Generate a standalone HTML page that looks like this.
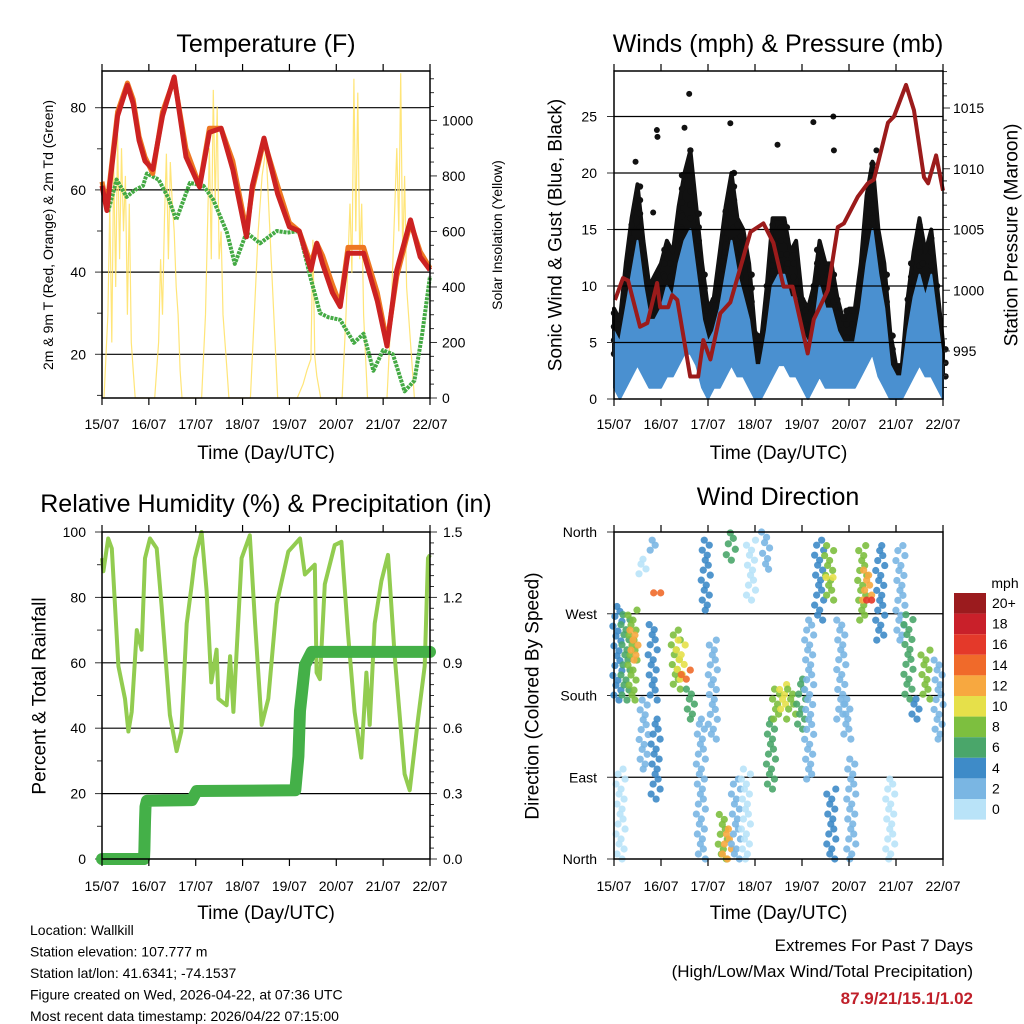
<!DOCTYPE html>
<html><head><meta charset="utf-8"><style>
html,body{margin:0;padding:0;background:#fff;}
svg{display:block;font-family:"Liberation Sans",sans-serif;}
</style></head><body>
<svg id="c" width="1024" height="1024" viewBox="0 0 1024 1024" xmlns="http://www.w3.org/2000/svg"></svg>
<script>
// ---------- DATA ----------
const dayLabels = ['15/07','16/07','17/07','18/07','19/07','20/07','21/07','22/07'];
// Temperature (F)
const tempHours = [0,2.5,8,13,16,19,22,26,31,37,43,50,55,61,67,74,77,83,90,96,101,107,110,113,118,122,126,134,141,146,151,158,163,168];
const tempRed   = [61,55,78,85.5,81,72,67,65,78,87.5,68,60.7,74,75,65,48.6,61,72.6,59,51,50,40.5,47,42,35,31.6,44.6,44.6,33,22,40.5,52.7,43.7,40.5];
const tempOrange= [62,56,79,86,82,73,68,64,79,87,70,61,75,75,67,50,60,72,61,52,50,42,47,44,37,32,46,46,35,23,39,52,45,41];
const dewHours  = [0,3,7.5,12.6,17,21,23,29,34,38,45,52,57,64,68,74,81,89.5,95,101,106.6,111.7,116,122,129,134,139,144,149,155,160,164,168];
const dewPoint  = [61,54.5,62.5,58.3,60,61,64,62.5,58,52.7,61.7,61,57.6,49.6,42,49.6,47,50,49.6,50,39,30,29,28.4,22.8,25,16,21,20,11,13.6,25,39];
const solarHours= [1,3,4,5,6,7,8,9,10,11,12,13,14,15,16,17, 27,29,30,31,32,33,34,35,36,37,38,39,40,41, 51,53,54,55,56,57,58,59,60,61,62,63,64,65, 76,78,80,82,84,86,88,90, 100,103,105,107,108,109,110,112, 123,125,127,128,129,130,131,132,133,134,136, 146,148,150,151,152,153,154,155,156,158,160];
const solarVals = [0,300,700,200,850,400,950,500,900,600,800,300,700,200,100,0, 0,200,500,300,650,880,500,850,700,600,400,300,100,0, 0,300,600,900,500,1110,700,1050,500,600,300,200,100,0, 0,300,600,800,900,600,300,0, 0,50,100,140,570,150,80,0, 0,300,700,450,1150,600,1100,500,700,300,0, 0,300,700,900,600,1170,500,800,400,200,0];
const tempTicks = [20,40,60,80];
const solarTicks = [0,200,400,600,800,1000];
// Winds (3-hourly envelope samples, hour = index*3)
const gustHi = [8,7,12,16,19,14,10,11, 12,14,13,17,20,22,17,12, 8,9,13,17,20,16,15,12, 6,5,10,16,16,16,13,14, 9,8,10,14,12,12,9,7, 8,8,12,18,21,15,12,6, 3,3,9,13,16,13,15,10,5];
const gustLo = [4,3,5,7,8,6,5,5, 5,6,6,8,9,10,8,5, 3,4,5,7,8,7,6,5, 2,2,4,7,8,8,6,6, 4,3,4,6,5,5,4,3, 3,3,5,8,10,7,5,2, 1,1,4,6,7,6,7,4,2];
const windHi = [6,5,8,11,14,10,7,7, 8,10,9,12,14,15,11,7, 5,6,8,11,14,11,9,7, 3,3,6,10,11,11,9,9, 6,5,6,10,8,8,6,5, 5,5,8,12,15,11,8,3, 2,2,6,9,11,9,11,7,3];
const windLo = [1,0,1,2,3,2,1,1, 1,2,2,3,4,4,3,1, 0,1,1,2,3,2,2,1, 0,0,1,2,3,3,2,2, 1,0,1,2,1,1,1,1, 1,1,2,3,4,2,1,0, 0,0,1,2,3,2,2,1,0];
const gustOutHours = [20,21.9,22.2,38.4,59.4,83.5,101.8,112,112.3,11,36,134];
const gustOutVals  = [16.5,23.8,23.2,27,24.4,22.5,24.5,25,22,21,24,22];
const presHours = [0.5,4.6,7.2,13.3,17,22,23.6,27.7,29.7,32.3,38.9,43,45.6,49.2,54.3,59.4,66,69.7,76.3,81.4,86.6,91.2,98.9,102,109.2,114.3,117.4,124.5,129.6,132.7,139.9,143,149.1,153.2,158.3,160.4,164.5,168];
const presVals  = [999.2,1001,1000.8,997,997.3,1000.6,998.6,998.6,999.6,999.2,992.9,992.9,995.9,994.3,998.1,999,1002.7,1004.8,1005.5,1003.9,1000.3,1000.3,994.8,997.6,1000,1005.2,1005.5,1007.7,1008.8,1009.1,1013.8,1014.3,1016.9,1014.8,1009.3,1008.8,1011.1,1008.2];
const windTicks = [0,5,10,15,20,25];
const presTicks = [995,1000,1005,1010,1015];
// Relative humidity & precipitation
const rhHours = [0,0.7,3.2,5,8.4,11.8,13.5,15.2,17.8,20.3,22,24.6,28,30.6,34.8,38.2,40.6,43.4,46,47.6,51,53.6,56,58.7,59.6,63.8,65.6,67.3,71.5,75.7,78.4,81.8,85.2,89.5,95.4,101.4,103.9,109,109.9,111.6,114.1,119.2,122.6,126,129.4,132.8,135.4,137.1,139.7,143.1,146.5,149.9,155,157.6,161.9,165.3,167,168];
const rhVals  = [92,88,98,95,59,49,39,45,70,64,92,98,95,77,44,33,39,72,84,92,100,82,54,64,49,47,62,45,92,99,72,41,49,78,94,98,87,90,57,55,84,96,97,69,45,31,57,41,72,85,93,62,26,21,43,59,92,93];
const precipHours = [0,21.5,21.7,22,22.3,23,46,48.5,99,100.6,101.4,104,107.4,168];
const precipVals  = [0,0,0.045,0.17,0.24,0.267,0.27,0.312,0.315,0.47,0.68,0.89,0.95,0.95];
const rhTicks = [0,20,40,60,80,100];
const precipTicks = ['0.0','0.3','0.6','0.9','1.2','1.5'];
// Wind direction streaks: hour, direction range (deg), speed (mph)
const dirHours = [1.5,3.1,5.6,9.2,10.2,14.3,14.9,21.8,19.5,21,19.5,31.3,33.8,36.4,39,44.1,46.6,50.2,55.3,57.4,59.4,62,67.1,69.7,77.4,79.9,82.5,86.1,90.2,95.3,99.4,104.5,109.6,110.7,115.8,118.4,120.9,126.5,129,135.7,140.8,146,150.1,158.8,165.5,153.7,129.5,109.8];
const dirLow   = [175,0,175,175,219,314,99,293,175,66,340,187,198,198,154,0,274,132,0,0,329,0,0,285,319,77,154,165,154,143,88,263,285,0,154,132,0,263,285,241,0,241,176,176,132,154,285,310];
const dirHigh  = [278,99,269,274,252,330,175,293,258,154,351,252,241,208,187,154,351,241,49,33,359,88,99,351,360,154,187,192,187,198,263,351,345,77,263,176,110,345,318,345,88,345,269,230,219,176,285,310];
const dirSpeed = [5,1,6,9,12,1,3,15,4,4,2,9,11,14,7,2,4,2,9,12,7,3,1,1,2,6,8,11,8,6,2,5,8,4,2,2,2,9,12,4,1,3,7,8,2,5,16,10];
const dirTicks = ['North','East','South','West','North'];
const speedLabels = ['0','2','4','6','8','10','12','14','16','18','20+'];
const speedColors = ['#b9e3f8','#7ab6e3','#3e8bc8','#4aa66a','#7dbf3f','#e6e04a','#f7a840','#f06a2a','#e4392a','#c9202a','#9b1b1e'];

// ---------- HELPERS ----------
const NS='http://www.w3.org/2000/svg';
const svg=document.getElementById('c');
function mk(tag,attrs,parent){const e=document.createElementNS(NS,tag);for(const k in attrs)e.setAttribute(k,attrs[k]);(parent||svg).appendChild(e);return e;}
function txt(s,x,y,size,anchor,parent,extra){const t=mk('text',Object.assign({x:x,y:y,'font-size':size,'text-anchor':anchor||'start',fill:'#000'},extra||{}),parent);t.textContent=s;return t;}
function xs(P,h){return P.x0+h/168*(P.x1-P.x0);}
function pts(P,H,V,fy){return H.map((h,i)=>xs(P,h).toFixed(1)+','+fy(V[i]).toFixed(1)).join(' ');}

const P1={x0:102,x1:430,y0:71,y1:398};
const P2={x0:614,x1:943,y0:71,y1:399};
const P3={x0:102,x1:430,y0:532,y1:859};
const P4={x0:614,x1:943,y0:532,y1:859};
const yT=t=>107.7+(80-t)*4.11;
const yS=s=>398-s*0.2776;
const yW=w=>399-w*11.3;
const yP=p=>351-(p-995)*12.15;
const yR=r=>859-r*3.27;
const yPr=v=>859-v*218;
const yD=d=>859-d*0.9083;

function xAxis(P,g,lblY,titleY){
  dayLabels.forEach((d,i)=>{const x=xs(P,i*24);
    mk('line',{x1:x,x2:x,y1:P.y1,y2:P.y1+7,stroke:'#000','stroke-width':1.2},g);
    mk('line',{x1:x,x2:x,y1:P.y0,y2:P.y0-7,stroke:'#000','stroke-width':1.2},g);
    const t=txt(d,x,lblY,14,'middle',g);
    
    
  });
  const tt=txt('Time (Day/UTC)',(P.x0+P.x1)/2,titleY,19,'middle',g);
  
  
}
function frame(P,g){
  const r=mk('rect',{x:P.x0,y:P.y0,width:P.x1-P.x0,height:P.y1-P.y0,fill:'none',stroke:'#000','stroke-width':1.5},g);
  
  
}
function grid(P,g,y){mk('line',{x1:P.x0,x2:P.x1,y1:y,y2:y,stroke:'#000','stroke-width':1.2},g);}
function tick(x,y,len,g){mk('line',{x1:x,x2:x+len,y1:y,y2:y,stroke:'#333','stroke-width':1},g);}
function rotLabel(s,x,y,size,g){return txt(s,x,y,size,'middle',g,{transform:'rotate(-90 '+x+' '+y+')','dominant-baseline':'central'});}

// ---------- PANEL 1: Temperature ----------
const g1=mk('g',{});


const t1=txt('Temperature (F)',266,52,25,'middle',g1);


tempTicks.forEach(v=>{grid(P1,g1,yT(v));tick(P1.x0,yT(v),-7,g1);
  const l=txt(String(v),86,yT(v)+5,14,'end',g1);
  
  });
[10,30,50,70].forEach(v=>tick(P1.x0,yT(v),-5,g1));
for(let s=0;s<=1150;s+=50){tick(P1.x1,yS(s),s%200===0?7:4,g1);}
solarTicks.forEach(v=>{const l=txt(String(v),442,yS(v)+5,14,'start',g1);
  
  });
const solar=mk('polyline',{points:pts(P1,solarHours,solarVals,yS),fill:'none',stroke:'#ffe060','stroke-width':1.2,opacity:0.85},g1);


const dew=mk('polyline',{points:pts(P1,dewHours,dewPoint,yT),fill:'none',stroke:'#44aa44','stroke-width':4,'stroke-dasharray':'3 1','stroke-linejoin':'round'},g1);


const tor=mk('polyline',{points:pts(P1,tempHours,tempOrange,yT),fill:'none',stroke:'#ee7722','stroke-width':5,'stroke-linejoin':'round'},g1);


const tred=mk('polyline',{points:pts(P1,tempHours,tempRed,yT),fill:'none',stroke:'#cc2222','stroke-width':5,'stroke-linejoin':'round'},g1);


frame(P1,g1);
xAxis(P1,g1,429,459);
const yl1=rotLabel('2m & 9m T (Red, Orange) & 2m Td (Green)',48,235,14,g1);


const yr1=rotLabel('Solar Insolation (Yellow)',497,235,14,g1);



// ---------- PANEL 2: Winds ----------
const g2=mk('g',{});


const t2=txt('Winds (mph) & Pressure (mb)',778,52,25,'middle',g2);


const sampH=gustHi.map((_,i)=>i*3);
function band(hi,lo,fill,name,sw){
  const up=sampH.map((h,i)=>xs(P2,h).toFixed(1)+','+yW(hi[i]).toFixed(1));
  const dn=sampH.map((h,i)=>xs(P2,h).toFixed(1)+','+yW(lo[i]).toFixed(1)).reverse();
  const p=mk('polygon',{points:up.concat(dn).join(' '),fill:fill,stroke:fill,'stroke-width':sw,'stroke-linejoin':'round'},g2);
  
  
}
band(gustHi,gustLo,'#111','gust-band',4);
gustHi.forEach((v,i)=>{
  for(let w=gustLo[i];w<=v;w+=1.2){
    const d=mk('circle',{cx:xs(P2,sampH[i])+((Math.round(w*10)%3)-1)*2.5,cy:yW(w),r:3.2,fill:'#111'},g2);
    
    
  }
});
gustOutHours.forEach((h,i)=>{
  const d=mk('circle',{cx:xs(P2,h),cy:yW(gustOutVals[i]),r:3,fill:'#111'},g2);
  
  
});
band(windHi,windLo,'#4a90d0','wind-band',2);
windTicks.forEach(v=>{if(v>0)grid(P2,g2,yW(v));tick(P2.x0,yW(v),-7,g2);
  const l=txt(String(v),597,yW(v)+5,14,'end',g2);
  
  });
for(let p=992;p<=1018;p++){tick(P2.x1,yP(p),p%5===0?7:4,g2);}
presTicks.forEach(v=>{const l=txt(String(v),953,yP(v)+5,14,'start',g2);
  
  });
const pres=mk('polyline',{points:pts(P2,presHours,presVals,yP),fill:'none',stroke:'#9b1b1b','stroke-width':4,'stroke-linejoin':'round'},g2);


frame(P2,g2);
xAxis(P2,g2,429,459);
const yl2=rotLabel('Sonic Wind & Gust (Blue, Black)',556,235,19,g2);


const yr2=rotLabel('Station Pressure (Maroon)',1012,235,19,g2);



// ---------- PANEL 3: RH & Precip ----------
const g3=mk('g',{});


const t3=txt('Relative Humidity (%) & Precipitation (in)',266,512,25,'middle',g3);


rhTicks.forEach(v=>{if(v>0&&v<100)grid(P3,g3,yR(v));tick(P3.x0,yR(v),-7,g3);
  const l=txt(String(v),86,yR(v)+5,14,'end',g3);
  
  });
[10,30,50,70,90].forEach(v=>tick(P3.x0,yR(v),-5,g3));
for(let i=0;i<=30;i++){tick(P3.x1,yPr(i*0.05),i%6===0?7:4,g3);}
precipTicks.forEach(s=>{const l=txt(s,443,yPr(parseFloat(s))+5,14,'start',g3);
  
  });
const rh=mk('polyline',{points:pts(P3,rhHours,rhVals,yR),fill:'none',stroke:'#92cc50','stroke-width':4,'stroke-linejoin':'round'},g3);


const pr=mk('polyline',{points:pts(P3,precipHours,precipVals,yPr),fill:'none',stroke:'#44b048','stroke-width':12,'stroke-linejoin':'round','stroke-linecap':'round'},g3);


frame(P3,g3);
xAxis(P3,g3,891,919);
const yl3=rotLabel('Percent & Total Rainfall',40,696,19,g3);



// ---------- PANEL 4: Wind direction ----------
const g4=mk('g',{});


const t4=txt('Wind Direction',778,505,25,'middle',g4);


dirTicks.forEach((s,i)=>{const y=yD(i*90);if(i>0&&i<4)grid(P4,g4,y);tick(P4.x0,y,-7,g4);
  const l=txt(s,597,y+5,14,'end',g4);
  
  });
function spColor(s){return speedColors[Math.min(10,Math.floor(s/2))];}
const jit=[0,3,-2,5,-4,1,-1,4,-3,2];
dirHours.forEach((h,i)=>{
  const y0=yD(dirHigh[i]),y1=yD(dirLow[i]);
  const n=Math.max(1,Math.round((y1-y0)/5));
  for(let k=0;k<=n;k++){
    const y=y0+(y1-y0)*k/n;
    const c=mk('circle',{cx:xs(P4,h)+jit[(k+i)%10],cy:y,r:3.6,fill:spColor(dirSpeed[i]),opacity:0.9},g4);
    
    
  }
});
frame(P4,g4);
xAxis(P4,g4,891,919);
const yl4=rotLabel('Direction (Colored By Speed)',533,696,19,g4);


// colorbar
const cb=mk('g',{});


const mph=txt('mph',1005,588,14,'middle',cb);


speedLabels.forEach((s,i)=>{
  const idx=10-i; const y=593+i*20.6;
  const r=mk('rect',{x:954,y:y,width:32,height:20.6,fill:speedColors[idx]},cb);
  
  
  const l=txt(speedLabels[idx],992,y+15,14,'start',cb);
  
  
});

// ---------- footer text ----------
const info=['Location: Wallkill','Station elevation: 107.777 m','Station lat/lon: 41.6341; -74.1537','Figure created on Wed, 2026-04-22, at 07:36 UTC','Most recent data timestamp: 2026/04/22 07:15:00'];
info.forEach((s,i)=>{const t=txt(s,30,935+i*21.5,14,'start');
  
  });
const e1=txt('Extremes For Past 7 Days',973,951,17,'end');


const e2=txt('(High/Low/Max Wind/Total Precipitation)',973,977,17,'end');


const e3=txt('87.9/21/15.1/1.02',973,1004,17,'end',null,{fill:'#c0202a','font-weight':'bold'});


</script>
</body></html>
